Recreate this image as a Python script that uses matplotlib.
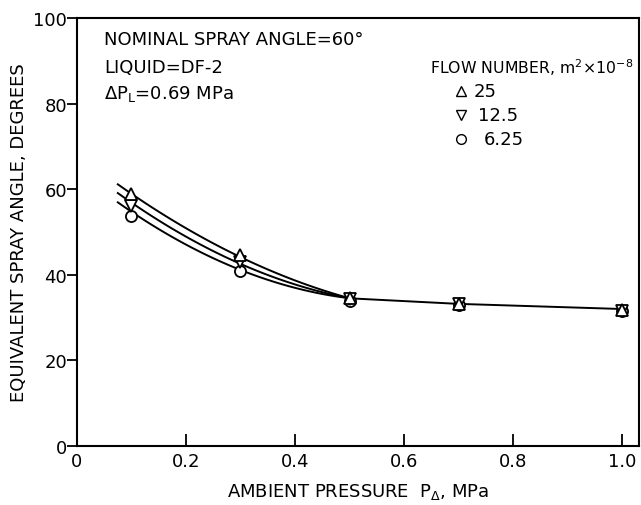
import numpy as np
import matplotlib
matplotlib.use("Agg")
import matplotlib.pyplot as plt

# measured spray angles (deg) vs ambient pressure (MPa)
pressure = [0.1, 0.3, 0.5, 0.7, 1.0]
angle_fn25 = [58.9, 44.6, 34.6, 33.2, 31.8]
angle_fn125 = [56.0, 43.0, 34.3, 33.1, 31.6]
angle_fn625 = [53.7, 40.9, 33.9, 33.0, 31.5]

# hand-drawn fit curves: start of each curve and common tail
curve_start_x = 0.075
curve_start_y = {"25": 61.4, "12.5": 59.3, "6.25": 57.2}
curve_low_y = {"25": 58.6, "12.5": 56.6, "6.25": 54.4}
curve_mid_y = {"25": 44.2, "12.5": 42.6, "6.25": 41.2}
tail_x = [0.5, 0.7, 1.0]
tail_y = [34.5, 33.2, 32.0]

plt.rcParams["font.family"] = ["DejaVu Sans"]

fig = plt.figure(figsize=(6.41, 5.06), dpi=100)
ax = fig.add_axes([0.120, 0.1166, 0.877, 0.846])

for key in ["25", "12.5", "6.25"]:
    cx = [curve_start_x, pressure[0], pressure[1], tail_x[0]]
    cy = [curve_start_y[key], curve_low_y[key], curve_mid_y[key], tail_y[0]]
    coef = np.polyfit(cx, cy, 2)
    xs = np.linspace(curve_start_x, tail_x[0], 100)
    ax.plot(xs, np.polyval(coef, xs), color="black", lw=1.4)
ax.plot(tail_x, tail_y, color="black", lw=1.4)

mk = dict(ls="none", mfc="white", mec="black", mew=1.3, ms=8, zorder=3)
ax.plot(pressure, angle_fn625, "o", **mk)
ax.plot(pressure, angle_fn125, "v", **mk)
ax.plot(pressure, angle_fn25, "^", **mk)

ax.set_xlim(0, 1.031)
ax.set_ylim(0, 100)
ax.set_xticks([0, 0.2, 0.4, 0.6, 0.8, 1.0])
ax.set_xticklabels(["0", "0.2", "0.4", "0.6", "0.8", "1.0"])
ax.set_yticks([0, 20, 40, 60, 80, 100])
ax.tick_params(axis="x", direction="in", length=9, width=1.3, labelsize=13, pad=4)
ax.tick_params(axis="y", direction="out", length=7, width=1.3, labelsize=13, pad=0)
for s in ax.spines.values():
    s.set_linewidth(1.5)

ax.set_xlabel(r"AMBIENT PRESSURE  P$_\Delta$, MPa", fontsize=13, labelpad=8)
ax.set_ylabel("EQUIVALENT SPRAY ANGLE, DEGREES", fontsize=13, labelpad=4)

fs = 13
ax.text(0.05, 95.1, "NOMINAL SPRAY ANGLE=60°", fontsize=fs, va="center")
ax.text(0.05, 88.6, "LIQUID=DF-2", fontsize=fs, va="center")
ax.text(0.05, 82.5, r"$\Delta$P$_\mathrm{L}$=0.69 MPa", fontsize=fs, va="center")

ax.text(0.648, 88.6, r"FLOW NUMBER, m$^2$$\times$10$^{-8}$", fontsize=11.3, va="center")
labels = ["25", "12.5", "6.25"]
marks = ["^", "v", "o"]
ys = [83.0, 77.3, 71.7]
label_x = [0.728, 0.736, 0.746]
for lab, m, y, lx in zip(labels, marks, ys, label_x):
    ax.plot([0.705], [y], m, ls="none", mfc="white", mec="black", mew=1.0, ms=7)
    ax.text(lx, y, lab, fontsize=fs, va="center")

fig.savefig("out.png", dpi=100)
